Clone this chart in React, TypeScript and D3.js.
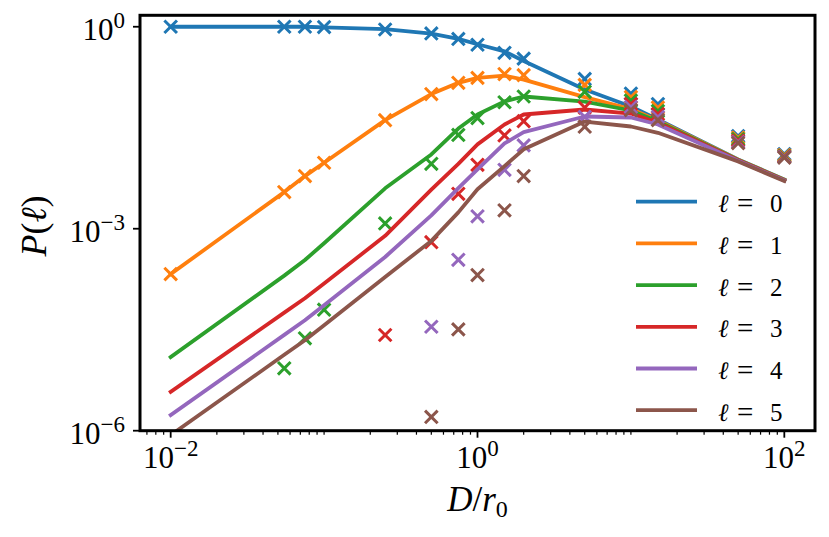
import * as d3 from 'd3';

// D/r0 sample positions shared by the model curves and the simulated points
const dOverR0 = [0.01, 0.055, 0.075, 0.1, 0.25, 0.5, 0.75, 1, 1.5, 2, 5, 10, 15, 50, 100];

// model curves P(l), one per l
const model0 = [1.0, 1.0, 1.0, 0.98, 0.92, 0.79, 0.66, 0.55, 0.43, 0.31, 0.117, 0.0653, 0.0419, 0.0107, 0.0054];
const model1 = [2.12e-4, 3.5e-3, 6.05e-3, 9.55e-3, 0.041, 0.1, 0.147, 0.174, 0.188, 0.164, 0.09, 0.06, 0.0406, 0.0106, 0.00535];
const model2 = [1.24e-5, 2.01e-4, 3.43e-4, 6.09e-4, 3.98e-3, 0.0127, 0.0308, 0.0497, 0.078, 0.092, 0.077, 0.057, 0.0392, 0.0105, 0.0053];
const model3 = [3.79e-6, 5.67e-5, 9.28e-5, 1.54e-4, 7.84e-4, 3.8e-3, 9.2e-3, 0.0179, 0.0353, 0.0497, 0.059, 0.0514, 0.0374, 0.0104, 0.00525];
const model4 = [1.71e-6, 2.65e-5, 4.38e-5, 7.31e-5, 3.8e-4, 1.58e-3, 4.0e-3, 7.6e-3, 0.0185, 0.0272, 0.0464, 0.0449, 0.0353, 0.0102, 0.0052];
const model5 = [8.6e-7, 1.34e-5, 2.21e-5, 3.69e-5, 1.92e-4, 6.6e-4, 1.75e-3, 3.85e-3, 8.5e-3, 0.0151, 0.0391, 0.033, 0.0266, 0.01, 0.0051];

// simulated points (null = not measured / below the plot)
const sim0 = [1.0, 1.0, 1.0, 0.99, 0.91, 0.795, 0.66, 0.54, 0.41, 0.336, 0.168, 0.102, 0.0711, 0.0238, 0.01285];
const sim1 = [2.12e-4, 3.5e-3, 6.05e-3, 9.55e-3, 0.041, 0.1, 0.147, 0.174, 0.198, 0.191, 0.137, 0.0904, 0.0631, 0.0226, 0.0124];
const sim2 = [null, 8.45e-6, 2.36e-5, 6.27e-5, 1.2e-3, 9.2e-3, 0.0247, 0.044, 0.0756, 0.092, 0.108, 0.08, 0.056, 0.0215, 0.012];
const sim3 = [null, null, null, null, 2.64e-5, 6.3e-4, 3.3e-3, 8.9e-3, 0.0243, 0.0396, 0.063, 0.0711, 0.0505, 0.0204, 0.0118];
const sim4 = [null, null, null, null, null, 3.5e-5, 3.45e-4, 1.53e-3, 7.5e-3, 0.0173, 0.0457, 0.0642, 0.0456, 0.0194, 0.0116];
const sim5 = [null, null, null, null, null, 1.6e-6, 3.2e-5, 2.05e-4, 1.88e-3, 6.05e-3, 0.0328, 0.0579, 0.0411, 0.0187, 0.0114];

const ells = [0, 1, 2, 3, 4, 5];
const colors = ['#1f77b4', '#ff7f0e', '#2ca02c', '#d62728', '#9467bd', '#8c564b'];
const models = [model0, model1, model2, model3, model4, model5];
const sims = [sim0, sim1, sim2, sim3, sim4, sim5];

const xMajor = [-2, 0, 2];
const yMajor = [0, -3, -6];

const W = 829;
const H = 537;
const FONT = '"Liberation Serif", "DejaVu Serif", serif';

export default function App() {
    const left = 140, right = 815, top = 15.3, bottom = 430.7;

    const x = d3.scaleLog().domain([10 ** -2.2, 10 ** 2.2]).range([left, right]);
    const y = d3.scaleLog().domain([1e-6, 10 ** 0.17]).range([bottom, top]);

    const line = d3.line<[number, number]>()
        .x(d => x(d[0]))
        .y(d => y(d[1]));

    // minor ticks: 2..9 per decade, plus the skipped decades
    const xMinor: number[] = [];
    for (let k = -3; k <= 2; k++) {
        for (let m = 1; m <= 9; m++) {
            if (m === 1 && (k % 2 === 0)) continue;
            const v = m * 10 ** k;
            if (v >= x.domain()[0] && v <= x.domain()[1]) xMinor.push(v);
        }
    }

    const legendX = 636, legendY = 201.7, legendStep = 41.7;

    return (
        <svg width={W} height={H} style={{ position: 'absolute', left: 0, top: 0, background: '#fff' }}
            fontFamily={FONT}>
            <defs>
                <clipPath id="plot-area">
                    <rect x={left} y={top} width={right - left} height={bottom - top} />
                </clipPath>
            </defs>

            <g clipPath="url(#plot-area)">
                {ells.map(l => {
                    const pts = dOverR0.map((d, i) => [d, models[l][i]] as [number, number]);
                    const marks = dOverR0
                        .map((d, i) => [d, sims[l][i]])
                        .filter(p => p[1] != null) as [number, number][];
                    return (
                        <g key={l}>
                            <path d={line(pts) || ''} fill="none" stroke={colors[l]}
                                strokeWidth={3.8} strokeLinejoin="round" strokeLinecap="square" />
                            {marks.map((p, i) => {
                                const cx = x(p[0]), cy = y(p[1]), r = 6.3;
                                return (
                                    <path key={i}
                                        d={`M${cx - r},${cy - r}L${cx + r},${cy + r}M${cx - r},${cy + r}L${cx + r},${cy - r}`}
                                        stroke={colors[l]} strokeWidth={3} fill="none" />
                                );
                            })}
                        </g>
                    );
                })}
            </g>

            {/* x ticks */}
            {xMinor.map(v => (
                <line key={'xm' + v} x1={x(v)} x2={x(v)} y1={bottom} y2={bottom + 4}
                    stroke="#000" strokeWidth={1.2} />
            ))}
            {xMajor.map(e => (
                <g key={'xM' + e}>
                    <line x1={x(10 ** e)} x2={x(10 ** e)} y1={bottom} y2={bottom + 7}
                        stroke="#000" strokeWidth={1.8} />
                    <text x={x(10 ** e)} y={468} textAnchor="middle" fontSize={31}>
                        10<tspan dy={-12} fontSize={23}>{e < 0 ? '\u2212' + -e : e}</tspan>
                    </text>
                </g>
            ))}

            {/* y ticks */}
            {yMajor.map(e => (
                <g key={'yM' + e}>
                    <line x1={left - 7} x2={left} y1={y(10 ** e)} y2={y(10 ** e)}
                        stroke="#000" strokeWidth={1.8} />
                    <text x={125} y={y(10 ** e) + 13} textAnchor="end" fontSize={31}>
                        10<tspan dy={-12} fontSize={23}>{e < 0 ? '\u2212' + -e : e}</tspan>
                    </text>
                </g>
            ))}

            {/* frame */}
            <rect x={left} y={top} width={right - left} height={bottom - top}
                fill="none" stroke="#000" strokeWidth={3} />

            {/* legend */}
            {ells.map(l => (
                <g key={'lg' + l}>
                    <line x1={legendX} x2={legendX + 61} y1={legendY + l * legendStep} y2={legendY + l * legendStep}
                        stroke={colors[l]} strokeWidth={3.8} />
                    <text y={legendY + l * legendStep + 10.5} fontSize={25}>
                        <tspan x={718} fontStyle="italic">ℓ</tspan>
                        <tspan x={737} fontSize={29} dy={1}>=</tspan>
                        <tspan x={770} dy={-1}>{l}</tspan>
                    </text>
                </g>
            ))}

            {/* axis labels */}
            <text x={(left + right) / 2} y={511} textAnchor="middle" fontSize={35}>
                <tspan fontStyle="italic">D</tspan>/<tspan fontStyle="italic">r</tspan>
                <tspan dy={6} fontSize={24}>0</tspan>
            </text>
            <text transform={`translate(46,${(top + bottom) / 2 + 3}) rotate(-90)`} textAnchor="middle" fontSize={36}>
                <tspan fontStyle="italic">P</tspan>(<tspan fontStyle="italic">ℓ</tspan>)
            </text>
        </svg>
    );
}
